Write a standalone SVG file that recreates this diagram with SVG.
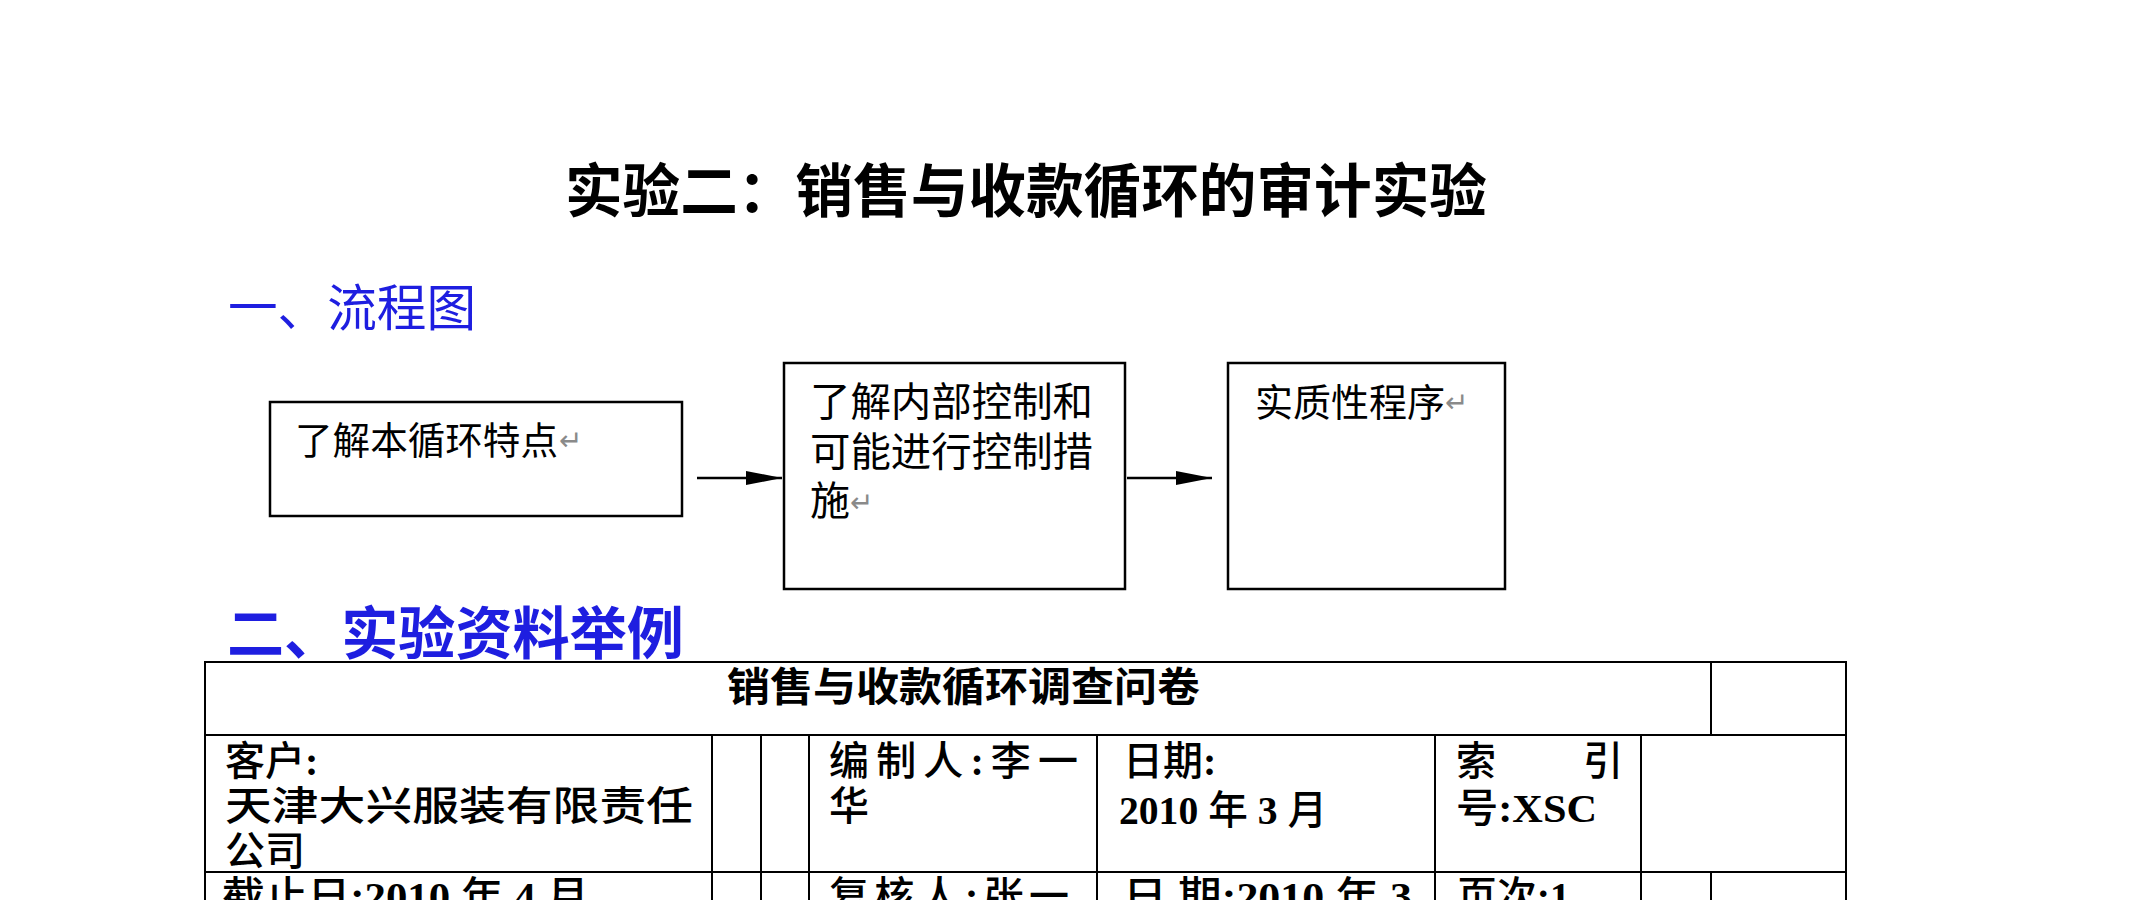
<svg xmlns="http://www.w3.org/2000/svg" width="2149" height="900" viewBox="0 0 2149 900">
<style>
.t{font-family:"Liberation Sans","Noto Sans CJK SC",sans-serif;fill:#000}
.h{font-family:"Liberation Serif","Noto Sans CJK SC",serif;fill:#1e1ee0}
.box{fill:#fff;stroke:#000;stroke-width:2.5}
.bt{font-family:"Liberation Sans","Noto Sans CJK SC",sans-serif;fill:#000}
.pm{font-family:"DejaVu Sans",sans-serif;fill:#8a8a8a;font-size:28px}
.conn line{stroke:#000;stroke-width:2.5}
.grid line{stroke:#000;stroke-width:2}
.c{font-family:"Liberation Serif","Noto Sans CJK SC",serif;font-size:40px;fill:#000;font-weight:500}
.b{font-weight:bold}
</style>
<defs>
<marker id="ah" markerUnits="userSpaceOnUse" markerWidth="36" markerHeight="14" refX="36" refY="7" orient="auto">
<path d="M0,0 L36,7 L0,14 z" fill="#000"/>
</marker>
</defs>
<rect width="2149" height="900" fill="#fff"/>

<g id="title">
<text class="t" x="565" y="212" font-size="58" font-weight="bold" textLength="922" lengthAdjust="spacingAndGlyphs">实验二：销售与收款循环的审计实验</text>
</g>
<g id="section1">
<text class="h" x="228" y="326" font-size="50" textLength="248" lengthAdjust="spacingAndGlyphs">一、流程图</text>
</g>

<g id="node1">
<rect class="box" x="270" y="402" width="412" height="114"/>
<text class="bt" x="295" y="454" font-size="38" textLength="263" lengthAdjust="spacingAndGlyphs">了解本循环特点</text>
<text class="pm" x="559" y="450">↵</text>
</g>
<g id="node2">
<rect class="box" x="784" y="363" width="341" height="226"/>
<text class="bt" x="810" y="416" font-size="40" textLength="283" lengthAdjust="spacingAndGlyphs">了解内部控制和</text>
<text class="bt" x="810" y="466" font-size="40" textLength="283" lengthAdjust="spacingAndGlyphs">可能进行控制措</text>
<text class="bt" x="810" y="515" font-size="40">施</text>
<text class="pm" x="850" y="512">↵</text>
</g>
<g id="node3">
<rect class="box" x="1228" y="363" width="277" height="226"/>
<text class="bt" x="1255" y="416" font-size="38" textLength="190" lengthAdjust="spacingAndGlyphs">实质性程序</text>
<text class="pm" x="1445" y="412">↵</text>
</g>

<g class="conn" id="connectors">
<line x1="697" y1="478" x2="782" y2="478" marker-end="url(#ah)"/>
<line x1="1127" y1="478" x2="1212" y2="478" marker-end="url(#ah)"/>
</g>

<g id="section2">
<text class="h" x="227" y="654" font-size="57" font-weight="bold" textLength="457" lengthAdjust="spacingAndGlyphs">二、实验资料举例</text>
</g>

<g id="table">
<g class="grid">
<line x1="204" y1="662" x2="1847" y2="662"/>
<line x1="204" y1="735" x2="1847" y2="735"/>
<line x1="204" y1="872" x2="1847" y2="872"/>
<line x1="205" y1="662" x2="205" y2="900"/>
<line x1="1846" y1="662" x2="1846" y2="900"/>
<line x1="1711" y1="662" x2="1711" y2="735"/>
<line x1="1711" y1="872" x2="1711" y2="900"/>
<line x1="712" y1="735" x2="712" y2="900"/>
<line x1="761" y1="735" x2="761" y2="900"/>
<line x1="809" y1="735" x2="809" y2="900"/>
<line x1="1097" y1="735" x2="1097" y2="900"/>
<line x1="1435" y1="735" x2="1435" y2="900"/>
<line x1="1641" y1="735" x2="1641" y2="900"/>
</g>
<text class="c b" x="727" y="701" font-size="43" textLength="473" lengthAdjust="spacingAndGlyphs">销售与收款循环调查问卷</text>

<text class="c" x="225" y="775">客户<tspan class="b">:</tspan></text>
<text class="c" x="225" y="820" textLength="468" lengthAdjust="spacingAndGlyphs">天津大兴服装有限责任</text>
<text class="c" x="225" y="865">公司</text>

<text class="c" x="829" y="775" textLength="249" lengthAdjust="spacing">编制人<tspan class="b">:</tspan>李一</text>
<text class="c" x="829" y="820">华</text>

<text class="c" x="1123" y="775">日期<tspan class="b">:</tspan></text>
<text class="c" x="1119" y="824" textLength="208" lengthAdjust="spacingAndGlyphs"><tspan class="b">2010 </tspan>年<tspan class="b"> 3 </tspan>月</text>

<text class="c" x="1456" y="775">索</text>
<text class="c" x="1583" y="775">引</text>
<text class="c" x="1456" y="822" textLength="141" lengthAdjust="spacingAndGlyphs">号<tspan class="b">:XSC</tspan></text>

<text class="c" x="222" y="910" textLength="367" lengthAdjust="spacingAndGlyphs">截止日<tspan class="b">:2010 </tspan>年<tspan class="b"> 4 </tspan>月</text>
<text class="c" x="829" y="910" textLength="240" lengthAdjust="spacing">复核人<tspan class="b">:</tspan>张一</text>
<text class="c" x="1123" y="910" textLength="289" lengthAdjust="spacingAndGlyphs">日 期<tspan class="b">:2010 </tspan>年<tspan class="b"> 3</tspan></text>
<text class="c" x="1457" y="910" textLength="113" lengthAdjust="spacingAndGlyphs">页次<tspan class="b">:1</tspan></text>
</g>
</svg>
